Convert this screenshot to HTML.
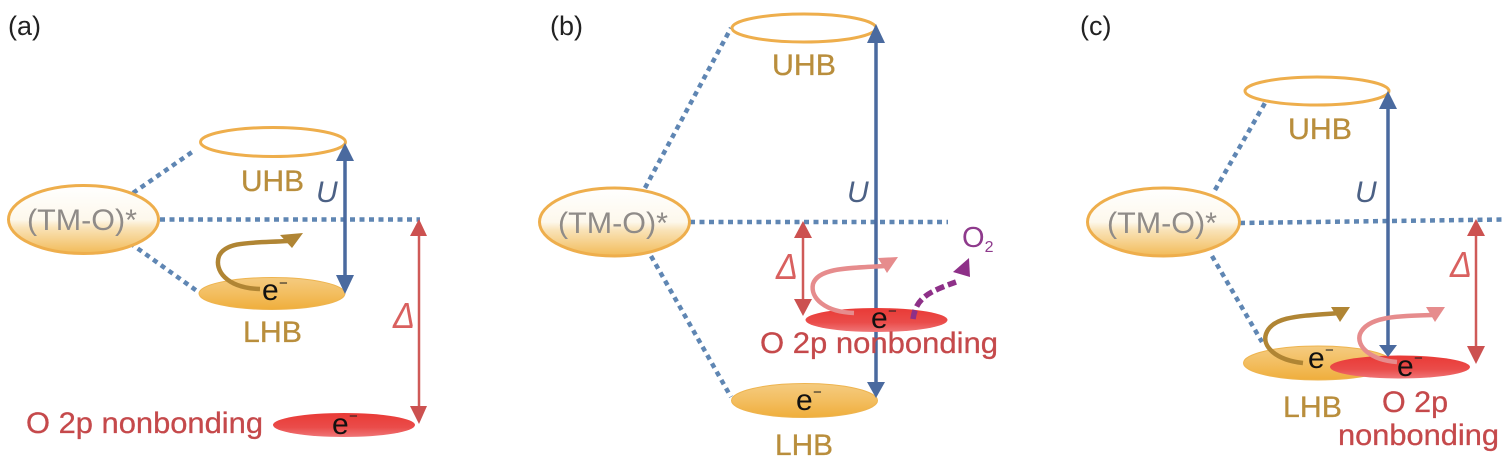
<!DOCTYPE html>
<html><head><meta charset="utf-8"><style>
html,body{margin:0;padding:0;background:#fff}
svg{display:block}
text{font-family:"Liberation Sans",sans-serif}
.lab{font-size:30px;stroke-width:.3}
.g{fill:#b98e3c;stroke:#b98e3c}.r{fill:#c5494b;stroke:#c5494b}
.tm{fill:#8f8b88;font-size:30px}
.u{fill:#4c6185;font-size:30px;font-style:italic}
.d{fill:#d9605f}
.p{font-size:27px;fill:#222}
.e{font-size:30px;fill:#111}
.m{font-size:15px;fill:#222}
.dot{stroke:#5f86b3;stroke-width:4.5;stroke-dasharray:5 4.500;fill:none}
.blue{stroke:#4a6a9f;stroke-width:3.5;fill:none}
.red{stroke:#cf5a58;stroke-width:2.5;fill:none}
.bh{fill:#4a6a9f}.rh{fill:#cc5150}
.un{fill:#fff;stroke:#eeae4c;stroke-width:3}
.tme{fill:url(#gt);stroke:#eeae4c;stroke-width:3}
.lh{fill:url(#gl);stroke:#eeb44f;stroke-width:1}
.rd{fill:url(#gr)}
.br{fill:none;stroke:#b08534;stroke-width:4.500}
.pk{fill:none;stroke:#e68c8d;stroke-width:4.500}
</style></head><body>
<svg width="1508" height="462" viewBox="0 0 1508 462" xmlns="http://www.w3.org/2000/svg">
<defs>
<linearGradient id="gt" x1="0" y1="0" x2="0" y2="1"><stop offset="0" stop-color="#fff"/><stop offset=".5" stop-color="#fdf8ec"/><stop offset=".62" stop-color="#f9e3b8"/><stop offset="1" stop-color="#f2bb58"/></linearGradient>
<linearGradient id="gl" x1="0" y1="0" x2="0" y2="1"><stop offset="0" stop-color="#f4cb80"/><stop offset=".5" stop-color="#f3be60"/><stop offset="1" stop-color="#efae3c"/></linearGradient>
<linearGradient id="gr" x1="0" y1="0" x2="0" y2="1"><stop offset="0" stop-color="#e93a36"/><stop offset=".6" stop-color="#ea4c4a"/><stop offset="1" stop-color="#ef7678"/></linearGradient>
</defs>

<!-- panel a -->
<text class="p" x="8" y="35">(a)</text>
<path class="dot" d="M133 193L195 150M130 243L197 291M160 219.500H420"/>
<ellipse class="tme" cx="83.500" cy="219.500" rx="75" ry="34"/>
<text class="tm" x="27" y="230" textLength="110" lengthAdjust="spacingAndGlyphs">(TM-O)*</text>
<ellipse class="un" cx="273" cy="142" rx="72.500" ry="14.500"/>
<text class="lab g" x="241" y="191" textLength="63" lengthAdjust="spacingAndGlyphs">UHB</text>
<ellipse class="lh" cx="272" cy="293.500" rx="73" ry="16"/>
<text class="lab g" x="243" y="342" textLength="59" lengthAdjust="spacingAndGlyphs">LHB</text>
<path class="blue" d="M345 155V282"/>
<path class="bh" d="M345 143L354 161H336ZM345 294L354 275H336Z"/>
<text class="u" x="316" y="202">U</text>
<path class="br" d="M260 289C226 288 214 270 219 256C226 241 252 243 288 241"/>
<path d="M303 233L280 235L292 248Z" fill="#b08534"/>
<text class="e" x="262" y="300">e</text><text class="m" x="279" y="288">−</text>
<ellipse class="rd" cx="344" cy="425" rx="71" ry="12"/>
<text class="e" x="332" y="434">e</text><text class="m" x="349" y="421">−</text>
<text class="lab r" x="26" y="433" textLength="237" lengthAdjust="spacingAndGlyphs">O 2p nonbonding</text>
<path class="red" d="M419 232V410"/>
<path class="rh" d="M419 219L427 236H410ZM419 424L427 406H410Z"/>
<text class="d" x="393" y="328" font-size="36" font-style="italic" textLength="22" lengthAdjust="spacingAndGlyphs">Δ</text>

<!-- panel b -->
<text class="p" x="550" y="35">(b)</text>
<path class="dot" d="M645 188L731 28M651 256L731 397M690 222H948"/>
<ellipse class="tme" cx="614.500" cy="222" rx="75" ry="34"/>
<text class="tm" x="558" y="233" textLength="110" lengthAdjust="spacingAndGlyphs">(TM-O)*</text>
<ellipse class="un" cx="804" cy="28" rx="72" ry="14"/>
<text class="lab g" x="772" y="75" textLength="64" lengthAdjust="spacingAndGlyphs">UHB</text>
<ellipse class="lh" cx="804.500" cy="400.500" rx="73" ry="17"/>
<text class="lab g" x="775" y="455" textLength="58" lengthAdjust="spacingAndGlyphs">LHB</text>
<path class="blue" d="M876 36V388"/>
<path class="bh" d="M876 24L885 43H867ZM876 398L885 382H867Z"/>
<text class="u" x="847" y="202">U</text>
<ellipse class="rd" cx="876.500" cy="320" rx="71" ry="12"/>
<path class="pk" d="M854 313C825 312 810 298 813 284C818 268 848 268 885 266"/>
<path d="M898 257L878 258L887 273Z" fill="#e68c8d"/>
<path d="M913 319C916 298 928 292 956 282" fill="none" stroke="#8e3088" stroke-width="5.500" stroke-dasharray="9 4"/>
<path d="M969 258L953 272L970 277Z" fill="#8e3088"/>
<text x="962" y="247" font-size="29" fill="#8e3a8c">O<tspan font-size="16" dy="5">2</tspan></text>
<text class="e" x="871" y="328">e</text><text class="m" x="888" y="316">−</text>
<text class="lab r" x="760" y="353" textLength="238" lengthAdjust="spacingAndGlyphs">O 2p nonbonding</text>
<path class="red" d="M803 236V302"/>
<path class="rh" d="M803 221L812 238H794ZM803 316L812 299H794Z"/>
<text class="d" x="776" y="279" font-size="36" font-style="italic" textLength="22" lengthAdjust="spacingAndGlyphs">Δ</text>
<text class="e" x="796" y="410">e</text><text class="m" x="813" y="397">−</text>

<!-- panel c -->
<text class="p" x="1080" y="35">(c)</text>
<path class="dot" d="M1215 190L1265 103M1212 256L1262 342M1240 223L1505 219.500"/>
<ellipse class="tme" cx="1163.500" cy="222" rx="76" ry="34"/>
<text class="tm" x="1107" y="233" textLength="110" lengthAdjust="spacingAndGlyphs">(TM-O)*</text>
<ellipse class="un" cx="1317" cy="91" rx="72" ry="14"/>
<text class="lab g" x="1288" y="139" textLength="64" lengthAdjust="spacingAndGlyphs">UHB</text>
<ellipse class="lh" cx="1318" cy="363" rx="74.500" ry="17"/>
<ellipse class="rd" cx="1400" cy="367" rx="70" ry="11.500"/>
<path class="blue" d="M1388 103V346"/>
<path class="bh" d="M1388 91L1397 109H1379ZM1388 357L1397 345H1379Z"/>
<text class="u" x="1355" y="202">U</text>
<path class="br" d="M1303 363C1275 360 1262 346 1266 334C1272 316 1300 316 1340 313"/>
<path d="M1350 307L1331 307L1340 322Z" fill="#b08534"/>
<path class="pk" d="M1397 362C1370 360 1356 346 1360 334C1367 317 1395 316 1433 315"/>
<path d="M1445 307L1426 307L1435 322Z" fill="#e68c8d"/>
<text class="e" x="1308" y="368">e</text><text class="m" x="1325" y="355">−</text>
<text class="e" x="1397" y="376">e</text><text class="m" x="1414" y="363">−</text>
<text class="lab g" x="1283" y="417" textLength="59" lengthAdjust="spacingAndGlyphs">LHB</text>
<text class="lab r" x="1382" y="412" textLength="66" lengthAdjust="spacingAndGlyphs">O 2p</text>
<text class="lab r" x="1338" y="445" textLength="161" lengthAdjust="spacingAndGlyphs">nonbonding</text>
<path class="red" d="M1476 232V350"/>
<path class="rh" d="M1476 219L1485 236H1467ZM1476 364L1485 346H1467Z"/>
<text class="d" x="1450" y="277" font-size="36" font-style="italic" textLength="22" lengthAdjust="spacingAndGlyphs">Δ</text>
</svg>
</body></html>
